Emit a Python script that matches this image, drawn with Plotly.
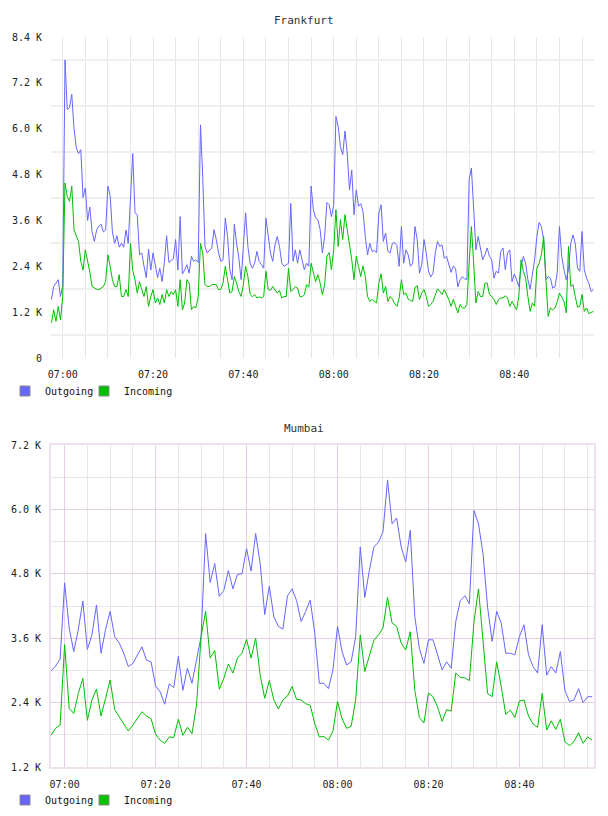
import pandas as pd
import plotly.graph_objects as go

# ---------------- data (values in thousands) ----------------
# Frankfurt: one sample every 30 s starting 06:57:30
fra_start = "2024-01-01 06:57:30"
fra_step = "30s"
fra_outgoing = [
    1.53, 1.87, 1.96, 2.05, 1.61, 1.9, 7.8, 6.5, 6.55, 6.9, 6.0, 5.5, 5.35, 5.45, 4.2, 4.45,
    3.6, 3.95, 3.3, 3.05, 3.35, 3.45, 3.5, 3.3, 3.35, 4.5, 4.25, 3.3, 3.0, 3.2, 2.9, 3.0,
    2.9, 3.35, 3.0, 4.2, 5.35, 3.8, 3.75, 2.7, 2.75, 2.4, 2.1, 2.85, 2.3, 2.75, 2.4, 2.1,
    2.35, 2.0, 2.5, 3.2, 2.5, 2.55, 2.6, 3.1, 2.3, 3.7, 2.2, 2.3,
    2.44, 2.22, 2.66, 2.53, 2.57, 2.5, 6.1, 4.75, 2.92, 2.75, 2.83, 2.88, 3.36, 3.1, 2.75, 2.53,
    2.57, 3.66, 3.18, 2.31, 2.05, 3.5, 3.0, 2.61, 2.05, 2.83, 3.8, 2.92, 2.48, 2.35, 2.48, 2.79,
    2.53, 2.44, 2.35, 3.66, 3.18, 2.75, 2.53, 2.96, 3.18, 2.92, 2.48, 2.4, 2.44, 2.48, 4.05, 2.53,
    2.83, 2.48, 2.83, 2.57, 2.31, 2.48, 2.4, 4.5, 3.88, 3.66, 3.62, 3.36,
    2.75, 3.18, 4.07, 4.01, 3.7, 4.0, 6.32, 6.06, 5.53, 5.32, 5.94, 5.36, 4.4, 4.92, 3.75, 4.4,
    3.97, 4.04, 3.83, 3.18, 2.7, 3.0, 2.79, 2.81, 2.76, 3.79, 4.01, 3.05, 3.27, 2.79, 2.75, 3.0,
    3.02, 2.94, 2.4, 3.44, 2.48, 2.83, 2.7, 2.4, 2.48, 3.44, 3.1, 2.22, 2.44, 3.1, 2.75, 2.27,
    2.12, 2.22, 2.75, 3.05, 2.92, 2.96, 2.61, 2.66, 2.48, 2.24, 2.41, 2.33,
    1.86, 2.05, 2.13, 2.07, 2.05, 4.66, 4.97, 3.7, 2.83, 3.18, 2.83, 2.57, 2.7, 2.88, 2.66, 2.57,
    2.09, 2.27, 2.22, 2.79, 2.88, 2.31, 2.75, 2.83, 2.0, 2.2, 2.05, 1.87, 2.4, 2.66, 2.48, 2.05,
    1.8, 2.13, 2.57, 3.18, 3.55, 3.44, 3.1, 2.05, 2.13, 2.09, 1.83, 1.86, 2.22, 3.44, 2.66, 2.31,
    2.05, 2.31, 3.0, 3.22, 3.0, 2.35, 2.27, 3.31, 2.31, 2.09, 1.96, 1.74, 1.79,
]
fra_incoming = [
    0.92, 1.26, 0.96, 1.35, 1.0, 1.61, 4.58, 4.23, 4.1, 4.5, 3.35, 3.18, 3.05, 2.53, 2.3, 2.83,
    2.57, 2.25, 1.87, 1.83, 1.8, 1.79, 1.83, 1.87, 2.0, 2.7, 2.4, 2.05, 1.87, 1.87, 2.18, 1.61,
    1.61, 1.79, 1.61, 3.0, 2.3, 2.05, 1.7, 2.0, 1.79, 1.61, 1.87, 1.35, 1.61, 1.79, 1.44, 1.57,
    1.4, 1.66, 1.44, 1.79, 1.61, 1.74, 1.66, 1.79, 1.35, 2.05, 1.26, 1.44,
    2.05, 1.96, 1.26, 1.35, 1.31, 1.61, 3.0, 2.75, 1.92, 1.87, 1.87, 1.92, 1.92, 1.92, 1.79, 1.8,
    1.96, 2.4, 2.05, 1.7, 1.74, 2.13, 1.96, 1.74, 1.61, 1.92, 2.4, 2.13, 1.66, 1.6, 1.66, 1.57,
    1.6, 1.57, 1.61, 2.27, 1.79, 1.77, 1.87, 1.77, 1.7, 1.77, 1.57, 1.61, 1.61, 2.35, 1.74, 1.79,
    1.87, 1.83, 1.61, 1.6, 1.66, 1.92, 1.85, 2.48, 2.22, 2.0, 2.18, 1.96,
    1.66, 1.92, 2.66, 2.76, 2.31, 2.83, 3.88, 2.92, 3.62, 3.1, 3.75, 3.36, 2.88, 2.57, 2.05, 2.66,
    2.4, 2.13, 2.41, 2.13, 1.61, 1.48, 1.53, 1.48, 1.44, 1.96, 2.2, 1.7, 1.87, 1.48, 1.61, 1.54,
    1.42, 1.35, 1.57, 2.05, 1.66, 1.7, 1.54, 1.51, 1.48, 1.85, 1.89, 1.53, 1.7, 1.79, 1.61, 1.35,
    1.4, 1.48, 1.66, 1.81, 1.74, 1.66, 1.79, 1.66, 1.53, 1.35, 1.53, 1.35,
    1.18, 1.4, 1.31, 1.31, 1.4, 2.48, 3.44, 2.48, 1.44, 1.74, 1.61, 1.61, 1.96, 1.96, 1.66, 1.61,
    1.53, 1.4, 1.53, 1.57, 1.57, 1.63, 1.57, 1.35, 1.48, 1.37, 1.26, 1.61, 2.57, 2.27, 2.09, 1.61,
    1.22, 1.44, 1.35, 2.35, 2.48, 2.7, 3.18, 2.05, 1.09, 1.31, 1.26, 1.31, 1.46, 1.7, 1.6, 1.48,
    1.18, 2.92, 1.87, 1.92, 1.61, 1.33, 1.35, 1.66, 1.22, 1.31, 1.16, 1.18, 1.22,
]

# Mumbai: one sample every minute starting 06:57
mum_start = "2024-01-01 06:57:00"
mum_step = "60s"
mum_outgoing = [
    2.99, 3.08, 3.21, 4.63, 3.79, 3.35, 3.76, 4.29, 3.39, 3.66, 4.22, 3.32, 3.76, 4.1, 3.63, 3.51,
    3.32, 3.07, 3.13, 3.29, 3.44, 3.19, 3.16, 2.71, 2.6, 2.37, 2.75, 2.68, 3.26, 2.63, 3.04, 2.76,
    3.19, 3.63, 5.55, 4.64, 4.99, 4.38, 4.49, 4.86, 4.52, 4.79, 4.8, 5.27, 4.85, 5.55, 4.99, 4.04,
    4.57, 4.0, 3.82, 3.77, 4.39, 4.52, 4.3, 3.91, 4.1, 4.31, 3.69, 2.76, 2.76, 2.66, 3.01, 3.82,
    3.35, 3.1, 3.16, 3.63, 5.3, 4.36, 4.86, 5.3, 5.39, 5.58, 6.55, 5.73, 5.84, 5.3, 5.02, 5.61,
    4.0, 3.41, 3.13, 3.57, 3.57, 3.29, 3.01, 3.16, 3.04, 3.91, 4.3, 4.39, 4.24, 5.98, 5.73, 5.17,
    4.18, 3.54, 4.1, 3.88, 3.32, 3.32, 3.29, 3.63, 3.85, 3.29, 3.07, 2.95, 3.85, 2.91, 3.07, 2.95,
    3.35, 2.63, 2.42, 2.45, 2.66, 2.4, 2.51, 2.51,
]
mum_incoming = [
    1.79, 1.92, 1.98, 3.48, 2.29, 2.2, 2.57, 2.85, 2.07, 2.45, 2.65, 2.15, 2.48, 2.82, 2.27, 2.13,
    2.01, 1.87, 1.98, 2.1, 2.23, 2.15, 2.1, 1.81, 1.7, 1.64, 1.76, 1.75, 2.09, 1.79, 1.94, 1.82,
    2.35, 3.63, 4.1, 3.23, 3.37, 2.65, 2.85, 3.12, 2.95, 3.23, 3.32, 3.58, 3.23, 3.6, 2.91, 2.48,
    2.81, 2.45, 2.28, 2.45, 2.52, 2.7, 2.46, 2.45, 2.38, 2.35, 2.01, 1.76, 1.77, 1.7, 1.87, 2.42,
    2.1, 1.92, 1.96, 2.45, 3.66, 2.98, 3.26, 3.56, 3.66, 3.79, 4.36, 3.88, 3.82, 3.51, 3.38, 3.72,
    2.63, 2.12, 2.02, 2.58, 2.51, 2.32, 2.05, 2.27, 2.24, 2.95, 2.87, 2.86, 2.81, 3.9, 4.52, 3.5,
    2.57, 2.51, 3.16, 2.7, 2.18, 2.26, 2.12, 2.43, 2.45, 2.15, 2.0, 1.94, 2.57, 1.89, 2.06, 1.9,
    2.09, 1.67, 1.6, 1.67, 1.84, 1.64, 1.76, 1.7,
]

fra_tickvals = [0, 1.2, 2.4, 3.6, 4.8, 6.0, 7.2, 8.4]
fra_ticktext = ["0", "1.2 K", "2.4 K", "3.6 K", "4.8 K", "6.0 K", "7.2 K", "8.4 K"]
fra_gridvals = [0.6, 1.8, 3.0, 4.2, 5.4, 6.6, 7.8]
mum_tickvals = [1.2, 2.4, 3.6, 4.8, 6.0, 7.2]
mum_ticktext = ["1.2 K", "2.4 K", "3.6 K", "4.8 K", "6.0 K", "7.2 K"]
mum_gridvals = [1.8, 3.0, 4.2, 5.4, 6.6]
series_names = ["Outgoing", "Incoming"]
titles = ["Frankfurt", "Mumbai"]

# ---------------- styling ----------------
OUT_COLOR = "#6666ff"
IN_COLOR = "#00bf00"
FONT = "DejaVu Sans Mono"
GRID = "#e6e6e6"
HGRID = "#efefef"
LAV = "#e4cfe4"
LAV_BORDER = "#eee0ee"
W, H = 608, 816


def py(px):
    return 1 - px / H


x_dom = [51 / W, 594 / W]


def times(start, step, n):
    return pd.date_range(start, periods=n, freq=step)


fig = go.Figure()

fx_out = times(fra_start, fra_step, len(fra_outgoing))
fx_in = times(fra_start, fra_step, len(fra_incoming))
mx_out = times(mum_start, mum_step, len(mum_outgoing))
mx_in = times(mum_start, mum_step, len(mum_incoming))

fig.add_trace(go.Scatter(x=fx_out, y=fra_outgoing, mode="lines", line=dict(color=OUT_COLOR, width=1),
                         xaxis="x", yaxis="y", showlegend=False, hoverinfo="skip"))
fig.add_trace(go.Scatter(x=fx_in, y=fra_incoming, mode="lines", line=dict(color=IN_COLOR, width=1),
                         xaxis="x", yaxis="y", showlegend=False, hoverinfo="skip"))
fig.add_trace(go.Scatter(x=mx_out, y=mum_outgoing, mode="lines", line=dict(color=OUT_COLOR, width=1),
                         xaxis="x2", yaxis="y2", showlegend=False, hoverinfo="skip"))
fig.add_trace(go.Scatter(x=mx_in, y=mum_incoming, mode="lines", line=dict(color=IN_COLOR, width=1),
                         xaxis="x2", yaxis="y2", showlegend=False, hoverinfo="skip"))

# legend entries (square swatches); one legend box per entry for exact placement
legend_ids = {("x", 0): "legend", ("x", 1): "legend3", ("x2", 0): "legend2", ("x2", 1): "legend4"}
for xa, ya in (("x", "y"), ("x2", "y2")):
    for k, (name, col) in enumerate(zip(series_names, (OUT_COLOR, IN_COLOR))):
        fig.add_trace(go.Scatter(x=[None], y=[None], mode="markers", name=name,
                                 marker=dict(symbol="square", size=10, color=col,
                                             line=dict(color="#8a8a8a", width=1)),
                                 xaxis=xa, yaxis=ya, legend=legend_ids[(xa, k)], showlegend=True))

common_x = dict(type="date", tickformat="%H:%M", tick0="2024-01-01 07:00", dtick=20 * 60 * 1000,
                ticks="outside", ticklen=7, tickcolor="rgba(0,0,0,0)", zeroline=False,
                tickfont=dict(family=FONT, size=10, color="#222"))
common_y = dict(ticks="outside", ticklen=6, tickcolor="rgba(0,0,0,0)", zeroline=False,
                tickfont=dict(family=FONT, size=10, color="#222"))
legend_common = dict(orientation="h", xanchor="left", yanchor="middle",
                     font=dict(family=FONT, size=10, color="#111"), bgcolor="rgba(0,0,0,0)",
                     itemclick=False, itemdoubleclick=False)

fig.update_layout(
    width=W, height=H, margin=dict(l=0, r=0, t=0, b=0, autoexpand=False),
    paper_bgcolor="white", plot_bgcolor="white",
    font=dict(family=FONT, size=10, color="#222"),
    xaxis=dict(domain=x_dom, anchor="y",
               range=["2024-01-01 06:57:24", "2024-01-01 08:57:39"],
               showgrid=True, gridcolor=GRID, gridwidth=1,
               minor=dict(dtick=5 * 60 * 1000, tick0="2024-01-01 07:00", showgrid=True,
                          gridcolor=GRID, gridwidth=1),
               showline=False, **common_x),
    yaxis=dict(domain=[py(358), py(37)], anchor="x", range=[0, 8.4],
               tickmode="array", tickvals=fra_tickvals, ticktext=fra_ticktext,
               showgrid=False,
               minor=dict(tickmode="array", tickvals=fra_gridvals, showgrid=True,
                          gridcolor=HGRID, gridwidth=2),
               showline=False, **common_y),
    xaxis2=dict(domain=x_dom, anchor="y2",
                range=["2024-01-01 06:57:00", "2024-01-01 08:56:24"],
                showgrid=True, gridcolor=LAV, gridwidth=1,
                minor=dict(dtick=5 * 60 * 1000, tick0="2024-01-01 07:00", showgrid=True,
                           gridcolor=GRID, gridwidth=1),
                showline=True, linecolor=LAV_BORDER, linewidth=2, mirror=True, **common_x),
    yaxis2=dict(domain=[py(767), py(445)], anchor="x2", range=[1.2, 7.2],
                tickmode="array", tickvals=mum_tickvals, ticktext=mum_ticktext,
                showgrid=True, gridcolor=LAV, gridwidth=1,
                minor=dict(tickmode="array", tickvals=mum_gridvals, showgrid=True,
                           gridcolor=GRID, gridwidth=1),
                showline=True, linecolor=LAV_BORDER, linewidth=2, mirror=True, **common_y),
    legend=dict(x=5 / W, y=py(391), **legend_common),
    legend3=dict(x=84 / W, y=py(391), **legend_common),
    legend2=dict(x=5 / W, y=py(800), **legend_common),
    legend4=dict(x=84 / W, y=py(800), **legend_common),
    annotations=[
        dict(text=titles[0], x=0.5, xref="paper", y=py(20), yref="paper", showarrow=False,
             xanchor="center", yanchor="middle", font=dict(family=FONT, size=11, color="#333")),
        dict(text=titles[1], x=0.5, xref="paper", y=py(428), yref="paper", showarrow=False,
             xanchor="center", yanchor="middle", font=dict(family=FONT, size=11, color="#333")),
    ],
)

fig.write_html("out.html", config={"displayModeBar": False})
